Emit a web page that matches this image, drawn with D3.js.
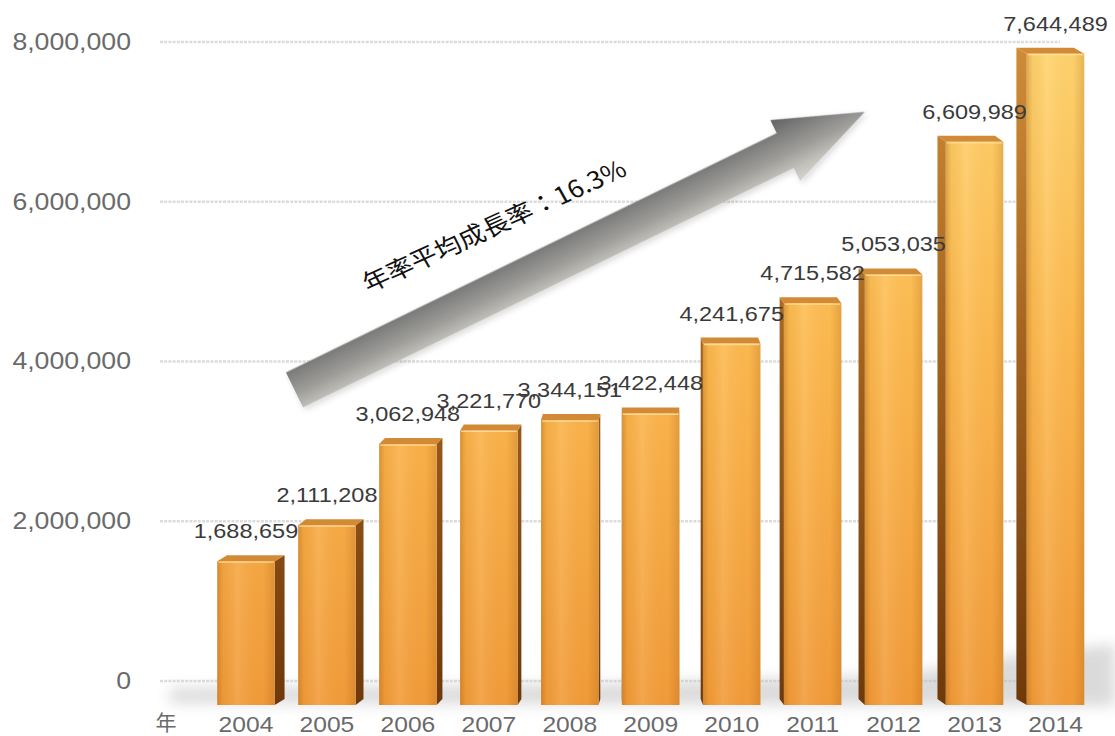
<!DOCTYPE html>
<html>
<head>
<meta charset="utf-8">
<script src="https://cdn.jsdelivr.net/npm/d3@7"></script>
<style>
  body { margin: 0; background: #fff; }
  svg { display: block; }
</style>
</head>
<body>
<svg id="chart" width="1115" height="736"></svg>
<script>
// Annual visitor counts, 2004–2014
const years = ["2004", "2005", "2006", "2007", "2008", "2009", "2010", "2011", "2012", "2013", "2014"];
const visitors = [1688659, 2111208, 3062948, 3221770, 3344151, 3422448, 4241675, 4715582, 5053035, 6609989, 7644489];
const yTicks = [0, 2000000, 4000000, 6000000, 8000000];
const yearUnit = "年";
const growthLabel = "年率平均成長率：16.3%";

const data = years.map((y, i) => ({ year: y, value: visitors[i] }));

const svg = d3.select("#chart");
const STRETCH = 1.12;                // wide lettering used throughout
const LATIN = "'Liberation Sans', Arial, Helvetica, sans-serif";
const CJK = "'Noto Sans CJK TC', 'Noto Sans CJK SC', sans-serif";

// Scales: back wall (gridlines) and front plane (bars) share the same domain
const x = d3.scaleBand().domain(years).range([205.5, 1096]).paddingInner(0.29).paddingOuter(0.145);
const yGrid = d3.scaleLinear().domain([0, 8000000]).range([681, 42]);
const yBar = d3.scaleLinear().domain([0, 8000000]).range([705, 705 - 681.6]);

// ---------- defs ----------
const defs = svg.append("defs");

const frontV = defs.append("linearGradient").attr("id", "frontV")
  .attr("gradientUnits", "userSpaceOnUse").attr("x1", 0).attr("y1", 40).attr("x2", 0).attr("y2", 705);
frontV.selectAll("stop").data([
  [0, "#FFD570"], [0.45, "#FDBA50"], [1, "#F29C3A"]
]).join("stop").attr("offset", d => d[0]).attr("stop-color", d => d[1]);

const frontH = defs.append("linearGradient").attr("id", "frontH")
  .attr("x1", 0).attr("y1", 0).attr("x2", 1).attr("y2", 0);
frontH.selectAll("stop").data([
  [0, "#8a4600", 0.30], [0.1, "#8a4600", 0.06], [0.35, "#ffffff", 0.10],
  [0.8, "#8a4600", 0.02], [1, "#8a4600", 0.22]
]).join("stop").attr("offset", d => d[0]).attr("stop-color", d => d[1]).attr("stop-opacity", d => d[2]);

const sideV = defs.append("linearGradient").attr("id", "sideV")
  .attr("gradientUnits", "userSpaceOnUse").attr("x1", 0).attr("y1", 40).attr("x2", 0).attr("y2", 705);
sideV.selectAll("stop").data([
  [0, "#D08C38"], [0.5, "#A0601C"], [1, "#6E380A"]
]).join("stop").attr("offset", d => d[0]).attr("stop-color", d => d[1]);

// arrow shading runs across the shaft: darker along the upper edge
const arrowGrad = defs.append("linearGradient").attr("id", "arrowGrad")
  .attr("gradientUnits", "userSpaceOnUse").attr("x1", 0).attr("y1", -34).attr("x2", 0).attr("y2", 34);
arrowGrad.selectAll("stop").data([
  [0, "#626262"], [0.25, "#7e7e7d"], [0.55, "#9d9c99"], [0.8, "#c2c0ba"], [1, "#d8d5ce"]
]).join("stop").attr("offset", d => d[0]).attr("stop-color", d => d[1]);

defs.append("filter").attr("id", "softBlur")
  .attr("x", "-10%").attr("y", "-50%").attr("width", "120%").attr("height", "200%")
  .append("feGaussianBlur").attr("stdDeviation", 7);

const ds = defs.append("filter").attr("id", "arrowShadow")
  .attr("x", "-10%").attr("y", "-30%").attr("width", "120%").attr("height", "160%");
ds.append("feDropShadow").attr("dx", 1).attr("dy", 3).attr("stdDeviation", 3)
  .attr("flood-color", "#000").attr("flood-opacity", 0.15);

// ---------- gridlines ----------
svg.append("g").selectAll("line").data(yTicks).join("line")
  .attr("x1", 160).attr("x2", 1060)
  .attr("y1", d => yGrid(d)).attr("y2", d => yGrid(d))
  .attr("stroke", "#dcdcdc").attr("stroke-width", 2.5).attr("stroke-dasharray", "3,1.2");

// ---------- y axis ----------
const yAxis = svg.append("g").attr("transform", "translate(131,0)")
  .call(d3.axisLeft(yGrid).tickValues(yTicks).tickFormat(d3.format(",")).tickSize(0).tickPadding(0));
yAxis.select(".domain").remove();
yAxis.selectAll("text")
  .attr("font-family", LATIN).attr("font-size", 23).attr("fill", "#6a6a6a")
  .attr("transform", "scale(1.16,1)");

// ---------- floor shadow ----------
const floorShadow = [[170, 703], [170, 688], [600, 684], [900, 675], [1010, 656], [1115, 644], [1115, 706]];
svg.append("path")
  .attr("d", d3.line()(floorShadow) + "Z")
  .attr("fill", "#bdbdbd").attr("opacity", 0.55)
  .attr("filter", "url(#softBlur)");

// ---------- bars (with simple perspective faces) ----------
const vpX = 640, depthK = 0.025, depthY = -6;
const bars = svg.append("g").selectAll("g").data(data).join("g");

bars.each(function (d) {
  const g = d3.select(this);
  const x0 = x(d.year), x1 = x0 + x.bandwidth();
  const cx = (x0 + x1) / 2;
  const yt = yBar(d.value), yb = yBar(0);
  const dx = (vpX - cx) * depthK;
  const edge = dx >= 0 ? x1 : x0;

  // side face
  g.append("path")
    .attr("d", d3.line()([[edge, yt], [edge + dx, yt + depthY], [edge + dx, yb + depthY], [edge, yb]]) + "Z")
    .attr("fill", "url(#sideV)");
  // top face
  g.append("path")
    .attr("d", d3.line()([[x0, yt], [x1, yt], [x1 + dx, yt + depthY], [x0 + dx, yt + depthY]]) + "Z")
    .attr("fill", "#D38A36");
  // front face
  g.append("rect").attr("x", x0).attr("y", yt).attr("width", x.bandwidth()).attr("height", yb - yt)
    .attr("fill", "url(#frontV)");
  g.append("rect").attr("x", x0).attr("y", yt).attr("width", x.bandwidth()).attr("height", yb - yt)
    .attr("fill", "url(#frontH)");
  // light rim along the front top edge
  g.append("line").attr("x1", x0 + 1).attr("x2", x1 - 1).attr("y1", yt + 1).attr("y2", yt + 1)
    .attr("stroke", "#ffe3a0").attr("stroke-width", 1.2).attr("opacity", 0.8);
});

// ---------- value labels ----------
svg.append("g").selectAll("g").data(data).join("g")
  .attr("transform", d => `translate(${x(d.year) + x.bandwidth() / 2},${yBar(d.value) - 23}) scale(${STRETCH},1)`)
  .append("text")
  .attr("text-anchor", "middle")
  .attr("font-family", LATIN).attr("font-size", 21).attr("fill", "#3a3a3a")
  .text(d => d3.format(",")(d.value));

// ---------- x axis ----------
const xAxis = svg.append("g").attr("transform", "translate(0,706)")
  .call(d3.axisBottom(x).tickSize(0).tickPadding(10));
xAxis.select(".domain").remove();
xAxis.selectAll("text")
  .attr("font-family", LATIN).attr("font-size", 22).attr("fill", "#6a6a6a")
  .attr("transform", `scale(${STRETCH},1)`);

svg.append("text")
  .attr("x", 166).attr("y", 730)
  .attr("text-anchor", "middle")
  .attr("font-family", CJK).attr("font-size", 21).attr("fill", "#6a6a6a")
  .text(yearUnit);

// ---------- growth arrow ----------
const shaft = 19.5, headHalf = 34, headBase = 546, tipLen = 634.6;
const arrowPts = [
  [0, -shaft], [headBase, -shaft], [headBase, -headHalf], [tipLen, 0],
  [headBase, headHalf], [headBase, shaft], [0, shaft]
];
svg.append("g")
  .attr("transform", "translate(294.5,390) rotate(-26)")
  .append("path")
  .attr("d", d3.line()(arrowPts) + "Z")
  .attr("fill", "url(#arrowGrad)")
  .attr("filter", "url(#arrowShadow)");

svg.append("g")
  .attr("transform", `translate(493,224) scale(${STRETCH},1) rotate(-27)`)
  .append("text")
  .attr("text-anchor", "middle").attr("dominant-baseline", "central")
  .attr("font-family", CJK).attr("font-size", 24).attr("fill", "#111")
  .text(growthLabel);
</script>
</body>
</html>
